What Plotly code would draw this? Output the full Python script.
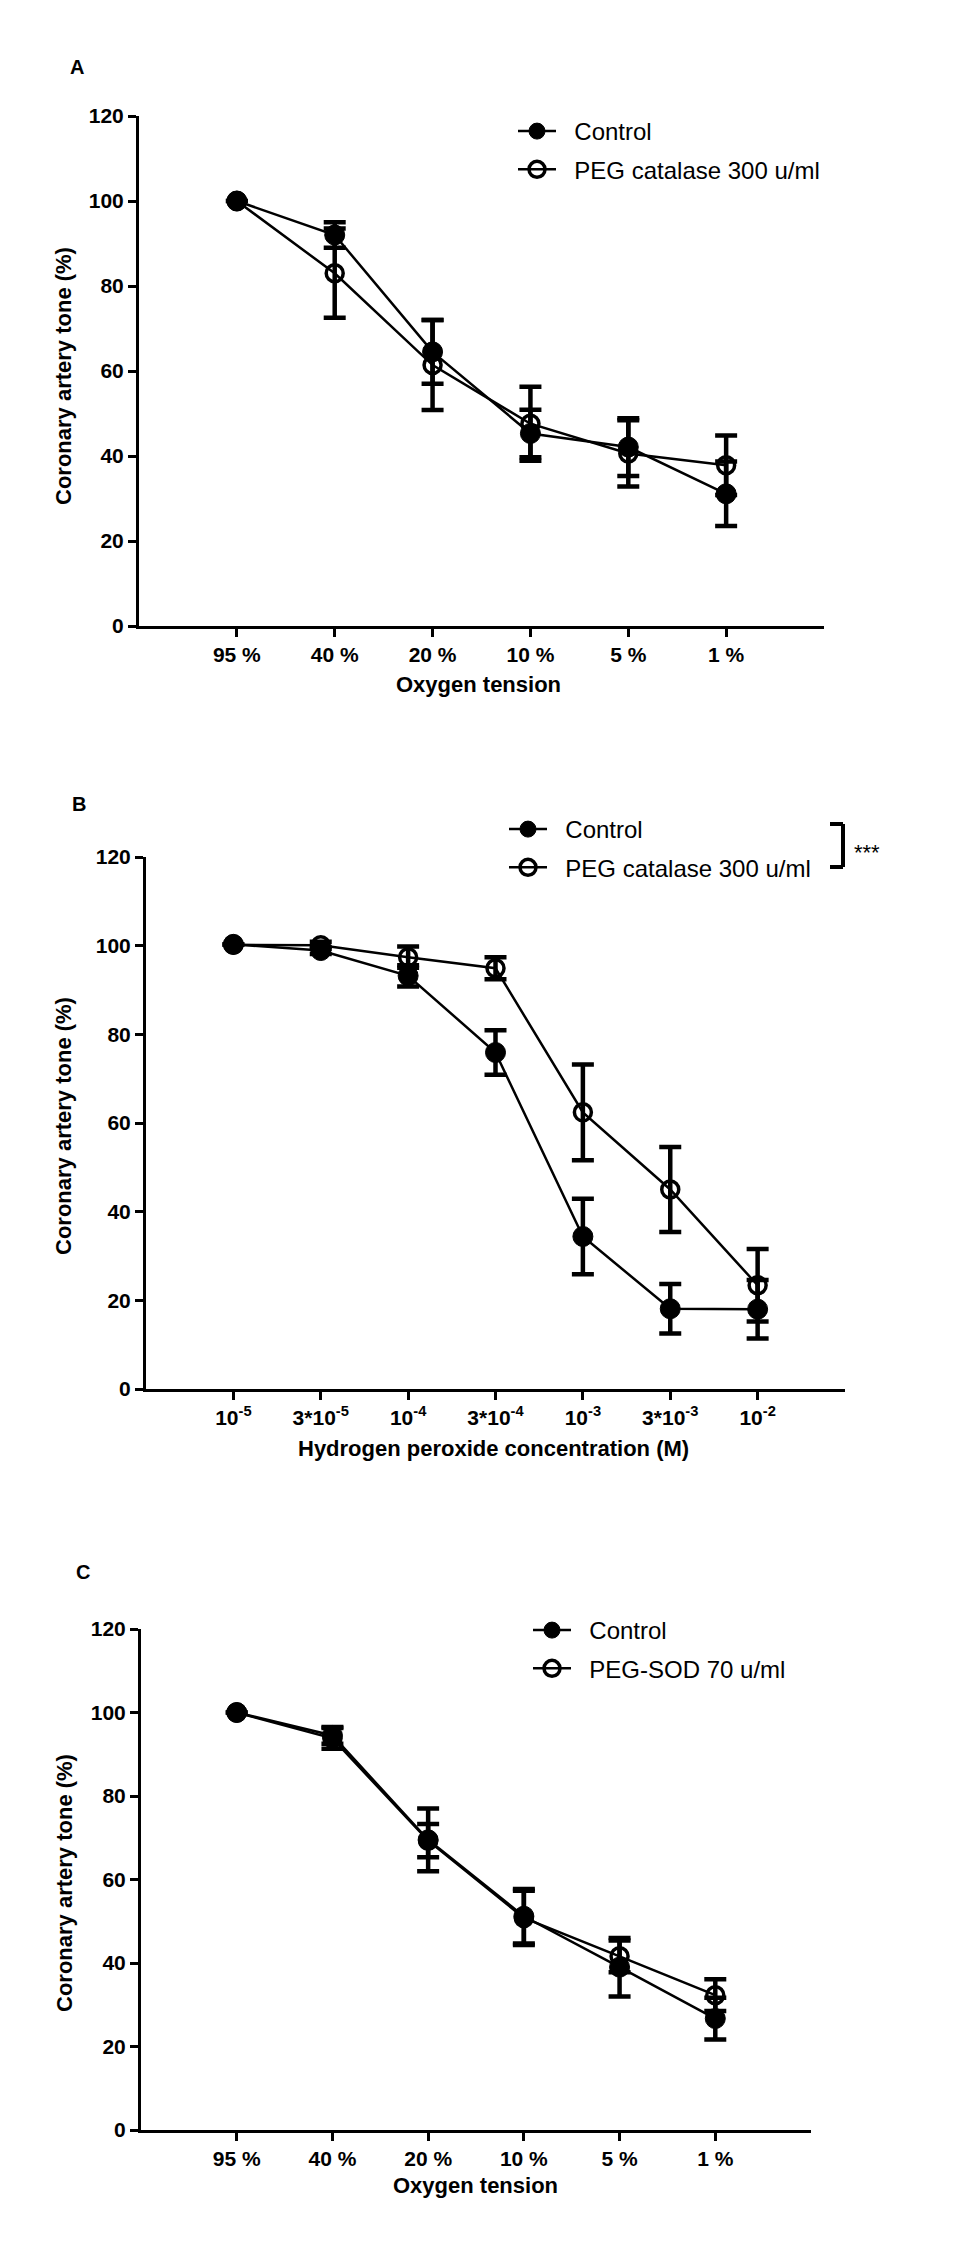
import plotly.graph_objects as go

W, H = 953, 2249

# ---------------- data ----------------
# Panel A
oxygen_labels = ["95 %", "40 %", "20 %", "10 %", "5 %", "1 %"]
a_control = [100, 92, 64.5, 45.3, 42.1, 31.1]
a_control_err = [0, 3, 7.5, 5.6, 6.8, 7.6]
a_peg = [100, 83, 61.4, 47.6, 40.6, 37.8]
a_peg_err = [0, 10.5, 10.6, 8.7, 7.8, 7.0]

# Panel B
h2o2_labels = ["10<sup>-5</sup>", "3*10<sup>-5</sup>", "10<sup>-4</sup>", "3*10<sup>-4</sup>",
               "10<sup>-3</sup>", "3*10<sup>-3</sup>", "10<sup>-2</sup>"]
b_control = [100.3, 98.9, 93.2, 75.9, 34.4, 18.1, 18.0]
b_control_err = [0, 0.8, 2.4, 5.0, 8.5, 5.6, 6.6]
b_peg = [100.2, 100.1, 97.4, 94.9, 62.4, 45.0, 23.4]
b_peg_err = [0, 0.8, 2.4, 2.5, 10.8, 9.6, 8.2]

# Panel C
c_control = [100, 94.5, 69.5, 51.2, 39.0, 26.7]
c_control_err = [0, 2.0, 7.5, 6.5, 7.0, 5.0]
c_peg = [100, 93.8, 69.3, 50.8, 41.6, 32.3]
c_peg_err = [0, 2.5, 4.0, 6.5, 3.8, 3.8]

y_ticks = [0, 20, 40, 60, 80, 100, 120]

FONT = "Liberation Sans, Arial, sans-serif"
GAP = "\u00a0\u00a0"


def px(x):
    return x / W


def py(y):
    return 1 - y / H


fig = go.Figure()


def add_pair(xa, ya, legend, labels, ctrl, ctrl_err, peg, peg_err, peg_name):
    xs = list(range(len(labels)))
    err_common = dict(type="data", visible=True, color="black", thickness=4.5, width=11)
    fig.add_trace(go.Scatter(
        x=xs, y=peg, xaxis=xa, yaxis=ya, mode="lines+markers", name=GAP + peg_name,
        legend=legend, legendgroup=legend + "p", legendrank=2,
        line=dict(color="black", width=2.5),
        marker=dict(symbol="circle-open", size=17, color="black",
                    line=dict(width=3.5, color="black")),
        error_y=dict(array=peg_err, **err_common),
        cliponaxis=False,
    ))
    fig.add_trace(go.Scatter(
        x=xs, y=ctrl, xaxis=xa, yaxis=ya, mode="lines+markers", name=GAP + "Control",
        legend=legend, legendgroup=legend + "c", legendrank=1,
        line=dict(color="black", width=2.5),
        marker=dict(symbol="circle", size=20, color="black",
                    line=dict(width=1, color="black")),
        error_y=dict(array=ctrl_err, **err_common),
        cliponaxis=False,
    ))


add_pair("x", "y", "legend", oxygen_labels, a_control, a_control_err, a_peg, a_peg_err,
         "PEG catalase 300 u/ml")
add_pair("x2", "y2", "legend2", h2o2_labels, b_control, b_control_err, b_peg, b_peg_err,
         "PEG catalase 300 u/ml")
add_pair("x3", "y3", "legend3", oxygen_labels, c_control, c_control_err, c_peg, c_peg_err,
         "PEG-SOD 70 u/ml")

axis_common = dict(showline=True, linewidth=3, linecolor="black", ticks="outside",
                   ticklen=8, tickwidth=3, tickcolor="black", showgrid=False,
                   zeroline=False, fixedrange=True, automargin=False,
                   tickfont=dict(family=FONT, size=21, color="black", weight="bold"))


def xaxis(domain, labels, rng, anchor):
    return dict(domain=domain, range=rng, tickmode="array",
                tickvals=list(range(len(labels))), ticktext=labels, anchor=anchor,
                **axis_common)


def yaxis(domain, anchor):
    return dict(domain=domain, range=[0, 120], tickmode="array", tickvals=y_ticks,
                anchor=anchor, **axis_common)


legend_common = dict(font=dict(family=FONT, size=24, color="black"),
                     bgcolor="rgba(0,0,0,0)", tracegroupgap=4, itemwidth=38,
                     xanchor="left", yanchor="top", itemsizing="trace")

fig.update_layout(
    width=W, height=H, margin=dict(l=0, r=0, t=0, b=0, pad=0, autoexpand=False),
    paper_bgcolor="white", plot_bgcolor="white",
    font=dict(family=FONT, color="black"),
    xaxis=xaxis([px(139), px(824)], oxygen_labels, [-1, 6], "y"),
    yaxis=yaxis([py(626), py(116)], "x"),
    xaxis2=xaxis([px(146), px(845)], h2o2_labels, [-1, 7], "y2"),
    yaxis2=yaxis([py(1389), py(857)], "x2"),
    xaxis3=xaxis([px(141), px(811)], oxygen_labels, [-1, 6], "y3"),
    yaxis3=yaxis([py(2130), py(1629)], "x3"),
    legend=dict(x=px(513), y=py(109), **legend_common),
    legend2=dict(x=px(504), y=py(807), **legend_common),
    legend3=dict(x=px(528), y=py(1608), **legend_common),
    showlegend=True,
)

annotations = []
# panel letters
for letter, (lx, ly) in {"A": (77, 67), "B": (79, 804), "C": (83, 1572)}.items():
    annotations.append(dict(text=letter, x=px(lx), y=py(ly), xref="paper", yref="paper",
                            showarrow=False, xanchor="center", yanchor="middle",
                            font=dict(family=FONT, size=20, color="black", weight="bold")))
# y titles
for yc in [376, 1126, 1883]:
    annotations.append(dict(text="Coronary artery tone (%)", x=px(64), y=py(yc),
                            xref="paper", yref="paper", showarrow=False, textangle=-90,
                            xanchor="center", yanchor="middle",
                            font=dict(family=FONT, size=22, color="black", weight="bold")))
# x titles
for txt, (tx, ty) in [("Oxygen tension", (478, 685)),
                      ("Hydrogen peroxide concentration (M)", (494, 1448)),
                      ("Oxygen tension", (475, 2185))]:
    annotations.append(dict(text=txt, x=px(tx), y=py(ty), xref="paper", yref="paper",
                            showarrow=False, xanchor="center", yanchor="middle",
                            font=dict(family=FONT, size=22, color="black", weight="bold")))
# significance stars
annotations.append(dict(text="***", x=px(852), y=py(852), xref="paper", yref="paper",
                        showarrow=False, xanchor="left", yanchor="middle",
                        font=dict(family=FONT, size=22, color="black")))
fig.update_layout(annotations=annotations)

# bracket in panel B
bx0, bx1, by0, by1 = 830, 843, 824, 867
for (x0, y0, x1, y1) in [(bx0, by0, bx1, by0), (bx1, by0, bx1, by1), (bx0, by1, bx1, by1)]:
    fig.add_shape(type="line", xref="paper", yref="paper",
                  x0=px(x0), y0=py(y0), x1=px(x1), y1=py(y1),
                  line=dict(color="black", width=4))

fig.write_html("out.html",
               config={"displayModeBar": False},
               post_script="document.body.style.margin='0';document.body.style.overflow='hidden';")
